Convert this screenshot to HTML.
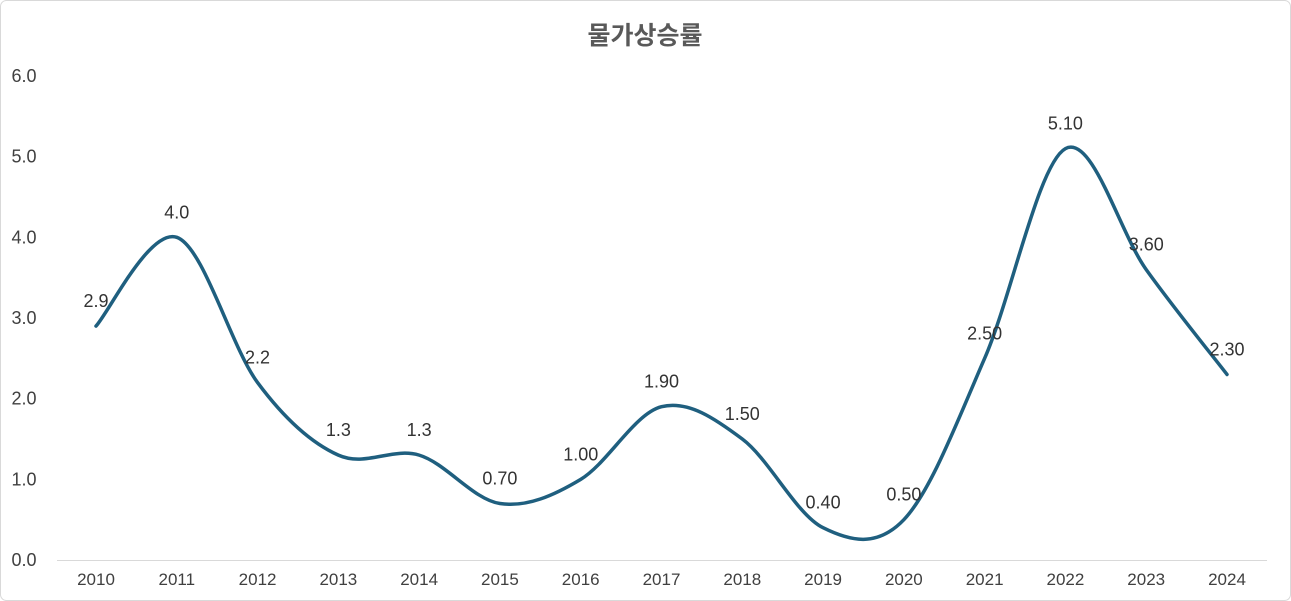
<!DOCTYPE html>
<html><head><meta charset="utf-8"><style>
html,body{margin:0;padding:0;background:#fff;}
svg{display:block;font-family:"Liberation Sans","Noto Sans CJK KR",sans-serif;}
</style></head><body>
<svg id="s" width="1291" height="601" viewBox="0 0 1291 601" xmlns="http://www.w3.org/2000/svg">
<rect x="0.5" y="0.5" width="1290" height="600" rx="6" fill="#fff" stroke="#d9d9d9"/>
<text x="645" y="44" text-anchor="middle" font-size="25" font-weight="bold" fill="#595959">물가상승률</text>
<line x1="57" y1="560.5" x2="1267" y2="560.5" stroke="#d9d9d9" stroke-width="1"/>
</svg>
<script>
var s=document.getElementById('s'),ns='http://www.w3.org/2000/svg';
function el(t,a,txt){var e=document.createElementNS(ns,t);for(var k in a)e.setAttribute(k,a[k]);if(txt!=null)e.textContent=txt;s.appendChild(e);return e;}
var vals=[2.9,4.0,2.2,1.3,1.3,0.7,1.0,1.9,1.5,0.4,0.5,2.5,5.1,3.6,2.3];
var labs=['2.9','4.0','2.2','1.3','1.3','0.70','1.00','1.90','1.50','0.40','0.50','2.50','5.10','3.60','2.30'];
function X(i){return 96+i*80.786;}function Y(v){return 560-v*80.667;}
for(var k=0;k<=6;k++){el('text',{x:24,y:Y(k)+6,'text-anchor':'middle','font-size':18,fill:'#404040'},k.toFixed(1));}
var P=vals.map(function(v,i){return [X(i),Y(v)];});
var d='M'+P[0][0]+','+P[0][1];
for(var i=0;i<P.length-1;i++){
 var p0=P[Math.max(i-1,0)],p1=P[i],p2=P[i+1],p3=P[Math.min(i+2,P.length-1)];
 var c1=[p1[0]+(p2[0]-p0[0])/6,p1[1]+(p2[1]-p0[1])/6],c2=[p2[0]-(p3[0]-p1[0])/6,p2[1]-(p3[1]-p1[1])/6];
 d+=' C'+c1+' '+c2+' '+p2;
}
el('path',{d:d,fill:'none',stroke:'#1f5f7f','stroke-width':3.5,'stroke-linecap':'round'});
for(var i=0;i<vals.length;i++){
 el('text',{x:X(i),y:585,'text-anchor':'middle','font-size':17,fill:'#404040'},String(2010+i));
 el('text',{x:X(i),y:P[i][1]-19,'text-anchor':'middle','font-size':18,fill:'#333'},labs[i]);
}
</script>
</body></html>
